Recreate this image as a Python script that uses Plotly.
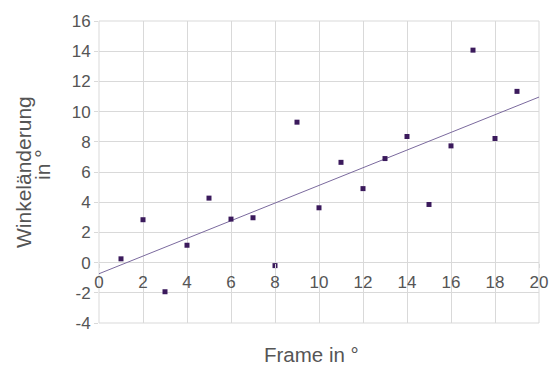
import numpy as np
import plotly.graph_objects as go

frames = [1, 2, 3, 4, 5, 6, 7, 8, 9, 10, 11, 12, 13, 14, 15, 16, 17, 18, 19]
winkel = [0.25, 2.84, -1.93, 1.15, 4.27, 2.88, 2.97, -0.2, 9.3, 3.63,
          6.64, 4.9, 6.89, 8.35, 3.85, 7.73, 14.07, 8.22, 11.34]
x_ticks = [0, 2, 4, 6, 8, 10, 12, 14, 16, 18, 20]
y_ticks = [-4, -2, 0, 2, 4, 6, 8, 10, 12, 14, 16]

slope, intercept = np.polyfit(frames, winkel, 1)
trend_x = [0, 20]
trend_y = [intercept + slope * v for v in trend_x]

grid = "#d9d9d9"
tickc = "#555555"
font = "Liberation Sans, Arial, sans-serif"

fig = go.Figure()
fig.add_trace(go.Scatter(x=trend_x, y=trend_y, mode="lines",
                         line=dict(color="#7b6a9e", width=1), hoverinfo="skip"))
fig.add_trace(go.Scatter(x=frames, y=winkel, mode="markers",
                         marker=dict(symbol="square", size=5, color="#3b1a5c")))

fig.update_layout(
    width=550, height=365,
    margin=dict(l=99, r=11, t=21, b=42),
    paper_bgcolor="white", plot_bgcolor="white",
    showlegend=False,
    font=dict(family=font, color=tickc, size=17),
    xaxis=dict(range=[0, 20], tickvals=x_ticks, ticktext=[str(v) for v in x_ticks],
               showgrid=True, gridcolor=grid, gridwidth=1, zeroline=False,
               anchor="free", position=0.2, showline=False,
               ticks="outside", ticklen=4, tickcolor=grid, automargin=False,
               tickfont=dict(size=17, color=tickc)),
    yaxis=dict(range=[-4, 16], tickvals=y_ticks, ticktext=[str(v) for v in y_ticks],
               showgrid=True, gridcolor=grid, gridwidth=1, zeroline=False,
               showline=False, ticks="outside", ticklen=4, tickcolor=grid,
               automargin=False, tickfont=dict(size=17, color=tickc)),
    shapes=[dict(type="rect", xref="paper", yref="paper", x0=0, y0=0, x1=1, y1=1,
                 line=dict(color=grid, width=1), layer="below")],
    annotations=[
        dict(text="Frame in °", xref="paper", yref="paper", x=(311 - 99) / 440, y=0,
             yshift=-31, showarrow=False, xanchor="center", yanchor="middle",
             font=dict(size=20.5, color=tickc)),
        dict(text="Winkeländerung", xref="paper", yref="paper", x=0, y=0.5,
             xshift=-76, showarrow=False, textangle=-90, xanchor="center",
             yanchor="middle", font=dict(size=21, color=tickc)),
        dict(text="in °", xref="paper", yref="paper", x=0, y=0.5, yshift=7,
             xshift=-57, showarrow=False, textangle=-90, xanchor="center",
             yanchor="middle", font=dict(size=21, color=tickc)),
    ],
)

fig.write_html("out.html", config={"displayModeBar": False},
               post_script="document.body.style.margin='0';document.body.style.overflow='hidden';")
